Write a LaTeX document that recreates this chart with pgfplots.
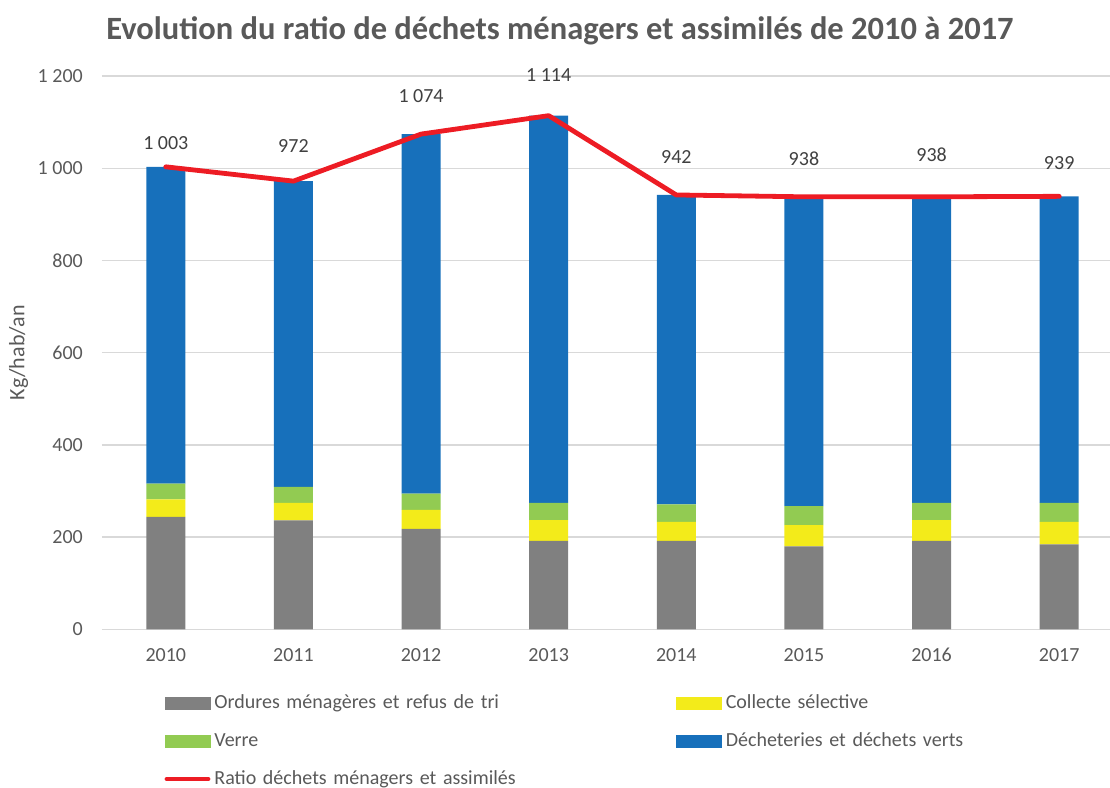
\documentclass[border=0pt]{standalone}
\usepackage{pgfplots}
\pgfplotsset{compat=1.18}
\usepackage{pgfplotstable}
\usepackage{fontspec}
\setmainfont{Carlito}

\definecolor{cgray}{HTML}{808080}
\definecolor{cyellow}{HTML}{F3EB1A}
\definecolor{cgreen}{HTML}{92CB52}
\definecolor{cblue}{HTML}{1770BB}
\definecolor{cred}{HTML}{ED1C24}
\definecolor{gridc}{HTML}{D9D9D9}
\definecolor{txt}{HTML}{595959}
\definecolor{lbl}{HTML}{404040}

\pgfplotstableread{
x om cs verre dech total laby
0 244 38 34 687 1003 1041
1 236 38 35 663 972 1033
2 218 41 35 780 1074 1142
3 192 45 37 840 1114 1189
4 192 41 38 671 942 1011
5 180 46 41 671 938 1005
6 192 45 37 664 938 1014
7 184 49 41 665 939 998
}\data

\pgfplotsset{
  base/.style={scale only axis, width=1008pt, height=553.3pt,
    xmin=-0.5, xmax=7.398, ymin=0, ymax=1200,
    at={(0pt,0pt)}, anchor=south west, clip=false},
  /pgf/number format/1000 sep={\ },
  /pgf/number format/assume math mode=true,
}

\begin{document}
\begin{tikzpicture}
\path[use as bounding box] (-102pt,-157.7pt) rectangle (1008pt,629.3pt);

\begin{axis}[base,
  ybar stacked, bar width=39pt,
  ymajorgrids, grid style={color=gridc, line width=1.4pt},
  axis line style={draw=none},
  major tick length=0pt,
  ytick={0,200,...,1200},
  xtick={0,...,7},
  xticklabels={2010,2011,2012,2013,2014,2015,2016,2017},
  tick label style={font=\fontsize{20}{24}\selectfont, color=txt},
  yticklabel style={anchor=east, inner sep=0pt, xshift=-19pt},
  xticklabel style={anchor=base, inner sep=0pt, yshift=-31.7pt},
  ylabel={Kg/hab/an},
  every axis y label/.style={at={(axis description cs:-0.0828,0.5)}, rotate=90, anchor=center, font=\fontsize{22}{26}\selectfont, color=txt},
]
\addplot[fill=cgray, draw=none] table[x=x, y=om] {\data};
\addplot[fill=cyellow, draw=none] table[x=x, y=cs] {\data};
\addplot[fill=cgreen, draw=none] table[x=x, y=verre] {\data};
\addplot[fill=cblue, draw=none] table[x=x, y=dech] {\data};
\end{axis}

\begin{axis}[base, hide axis,
  legend columns=2,
  legend style={at={(axis description cs:0.0621,-0.117)}, anchor=north west,
    draw=none, fill=none, inner sep=0pt, outer sep=0pt,
    font=\fontsize{20}{24}\selectfont, text=txt,
    nodes={inner sep=0pt, text height=14pt, text depth=4pt, text width=462pt, align=left},
    /tikz/every odd column/.style={column sep=4pt},
    /tikz/every even column/.style={column sep=0pt},
    row sep=20pt},
]
\addlegendimage{legend image code/.code={\fill[cgray] (0pt,-6pt) rectangle (45pt,6pt);}}
\addlegendentry{Ordures ménagères et refus de tri}
\addlegendimage{legend image code/.code={\fill[cyellow] (0pt,-6pt) rectangle (45pt,6pt);}}
\addlegendentry{Collecte sélective}
\addlegendimage{legend image code/.code={\fill[cgreen] (0pt,-6pt) rectangle (45pt,6pt);}}
\addlegendentry{Verre}
\addlegendimage{legend image code/.code={\fill[cblue] (0pt,-6pt) rectangle (45pt,6pt);}}
\addlegendentry{Décheteries et déchets verts}
\addplot[color=cred, line width=4.8pt, mark=none, line join=round, line cap=round,
  legend image code/.code={\draw[cred, line width=4.8pt, line cap=round] (2pt,0pt) -- (43pt,0pt);}]
  table[x=x, y=total] {\data};
\addlegendentry{Ratio déchets ménagers et assimilés}
\addplot[draw=none, mark=none, forget plot,
  nodes near coords, point meta=explicit,
  nodes near coords style={anchor=base, inner sep=0pt, font=\fontsize{20}{24}\selectfont, color=lbl}]
  table[x=x, y=laby, meta=total] {\data};
\end{axis}

\node[anchor=base, font=\fontsize{32.5}{38}\selectfont\bfseries, color=txt] at (458pt,590pt)
  {Evolution du ratio de déchets ménagers et assimilés de 2010 à 2017};
\end{tikzpicture}
\end{document}
